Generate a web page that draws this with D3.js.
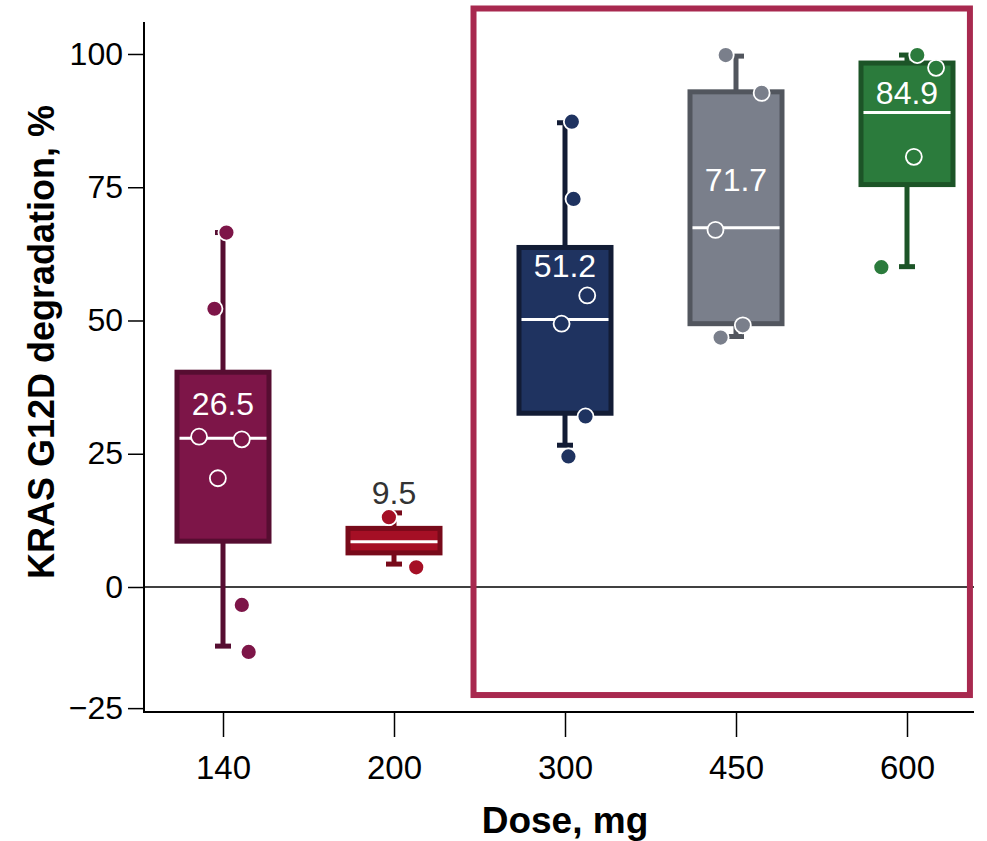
<!DOCTYPE html>
<html>
<head>
<meta charset="utf-8">
<script src="https://cdn.jsdelivr.net/npm/d3@7"></script>
<style>
  body { margin: 0; background: #fff; }
  svg { display: block; font-family: "Liberation Sans", Arial, sans-serif; }
</style>
</head>
<body>
<svg width="987" height="841"></svg>
<script>
// dose groups and box statistics (values in % degradation)
var doses = ["140", "200", "300", "450", "600"];
var q1 = [8.6, 6.4, 32.6, 49.4, 75.5];
var medians = [27.9, 8.5, 50.2, 67.4, 89.0];
var q3 = [40.3, 11.0, 63.7, 92.9, 98.3];
var whiskerLo = [-12.2, 4.3, 26.6, 47.0, 60.1];
var whiskerHi = [66.5, 13.9, 87.1, 99.6, 99.8];
var labels = ["26.5", "9.5", "51.2", "71.7", "84.9"];
var labelAt = [34.5, 17.8, 60.3, 76.4, 92.7];

// individual patients, per dose
var points140 = [66.5, 52.2, 28.2, 27.7, 20.4, -3.7, -13.4];
var points200 = [13.1, 3.7];
var points300 = [87.3, 72.8, 54.7, 49.4, 32.0, 24.5];
var points450 = [99.8, 92.7, 67.0, 49.1, 46.8];
var points600 = [99.8, 97.4, 80.7, 60.0];
// horizontal jitter as a fraction of the group step
var jitter140 = [0.02, -0.05, -0.14, 0.11, -0.03, 0.11, 0.15];
var jitter200 = [-0.03, 0.13];
var jitter300 = [0.04, 0.05, 0.13, -0.02, 0.12, 0.02];
var jitter450 = [-0.06, 0.15, -0.12, 0.04, -0.09];
var jitter600 = [0.06, 0.17, 0.04, -0.15];

var yTicks = [-25, 0, 25, 50, 75, 100];

var fills = ["#7d1548", "#a50f25", "#1f3360", "#7a7f8b", "#2b7b3c"];
var borders = ["#560d31", "#780a1a", "#121c35", "#52565e", "#1c5427"];

var allPoints = [points140, points200, points300, points450, points600];
var allJitter = [jitter140, jitter200, jitter300, jitter450, jitter600];

var plotLeft = 144, plotRight = 974, plotTop = 22, plotBottom = 712;

var svg = d3.select("svg");

var x = d3.scalePoint()
    .domain(doses)
    .range([223, 907]);
var step = x.step();

var y = d3.scaleLinear()
    .domain([-25.8, 0, 106])
    .range([plotBottom, 587, plotTop]);

var boxW = 92;

// zero reference line
svg.append("line")
    .attr("x1", plotLeft).attr("x2", plotRight)
    .attr("y1", y(0)).attr("y2", y(0))
    .attr("stroke", "#000").attr("stroke-width", 1.5);

var groups = doses.map(function(d, i) {
    return { dose: d, i: i };
});

var g = svg.append("g").selectAll("g")
    .data(groups)
    .enter().append("g");

// whisker stems
g.append("line")
    .attr("x1", function(d) { return x(d.dose); })
    .attr("x2", function(d) { return x(d.dose); })
    .attr("y1", function(d) { return y(whiskerLo[d.i]); })
    .attr("y2", function(d) { return y(whiskerHi[d.i]); })
    .attr("stroke", function(d) { return borders[d.i]; })
    .attr("stroke-width", 5);

// whisker caps
[whiskerLo, whiskerHi].forEach(function(arr) {
    g.append("line")
	.attr("x1", function(d) { return x(d.dose) - 8; })
	.attr("x2", function(d) { return x(d.dose) + 8; })
	.attr("y1", function(d) { return y(arr[d.i]); })
	.attr("y2", function(d) { return y(arr[d.i]); })
	.attr("stroke", function(d) { return borders[d.i]; })
	.attr("stroke-width", 5);
});

// boxes
g.append("rect")
    .attr("x", function(d) { return x(d.dose) - boxW / 2; })
    .attr("width", boxW)
    .attr("y", function(d) { return y(q3[d.i]); })
    .attr("height", function(d) { return y(q1[d.i]) - y(q3[d.i]); })
    .attr("fill", function(d) { return fills[d.i]; })
    .attr("stroke", function(d) { return borders[d.i]; })
    .attr("stroke-width", 5);

// medians
g.append("line")
    .attr("x1", function(d) { return x(d.dose) - boxW / 2 + 2.5; })
    .attr("x2", function(d) { return x(d.dose) + boxW / 2 - 2.5; })
    .attr("y1", function(d) { return y(medians[d.i]); })
    .attr("y2", function(d) { return y(medians[d.i]); })
    .attr("stroke", "#fff")
    .attr("stroke-width", 3);

// points
g.each(function(d) {
    d3.select(this).selectAll("circle")
	.data(allPoints[d.i])
	.enter().append("circle")
	.attr("cx", function(v, j) { return x(d.dose) + allJitter[d.i][j] * step; })
	.attr("cy", function(v) { return y(v); })
	.attr("r", 8)
	.attr("fill", fills[d.i])
	.attr("stroke", "#fff")
	.attr("stroke-width", 1.8);
});

// value labels
g.append("text")
    .attr("x", function(d) { return x(d.dose); })
    .attr("y", function(d) { return y(labelAt[d.i]); })
    .attr("dy", "0.36em")
    .attr("text-anchor", "middle")
    .attr("font-size", 32)
    .attr("fill", function(d) { return d.i == 1 ? "#333" : "#fff"; })
    .text(function(d) { return labels[d.i]; });

// highlight frame around 300-600 mg
var frameL = x("300") - step * 0.535, frameR = x("600") + step * 0.368;
svg.append("rect")
    .attr("x", frameL)
    .attr("y", 8.5)
    .attr("width", frameR - frameL)
    .attr("height", y(-22.3) - 8.5)
    .attr("fill", "none")
    .attr("stroke", "#a8294f")
    .attr("stroke-width", 6);

// axes
var yAxis = svg.append("g")
    .attr("transform", "translate(" + plotLeft + ",0)")
    .call(d3.axisLeft(y).tickValues(yTicks).tickSize(16).tickPadding(5)
	  .tickFormat(function(v) { return v < 0 ? "\u2212" + Math.abs(v) : v; }));
yAxis.select(".domain").remove();
yAxis.selectAll("line").attr("stroke-width", 1.5);
yAxis.selectAll("text").attr("font-size", 32).attr("fill", "#000")
    .style("font-family", "Liberation Sans, Arial, sans-serif");

var xAxis = svg.append("g")
    .attr("transform", "translate(0," + plotBottom + ")")
    .call(d3.axisBottom(x).tickSize(25).tickPadding(19));
xAxis.select(".domain").remove();
xAxis.selectAll("line").attr("stroke-width", 1.5);
xAxis.selectAll("text").attr("font-size", 33).attr("fill", "#000")
    .style("font-family", "Liberation Sans, Arial, sans-serif");

svg.append("path")
    .attr("d", "M" + plotLeft + "," + plotTop + "V" + plotBottom + "H" + plotRight)
    .attr("fill", "none")
    .attr("stroke", "#000")
    .attr("stroke-width", 2);

// axis titles
svg.append("text")
    .attr("transform", "translate(54,342) rotate(-90)")
    .attr("text-anchor", "middle")
    .attr("font-size", 36)
    .attr("font-weight", "bold")
    .text("KRAS G12D degradation, %");

svg.append("text")
    .attr("x", 565)
    .attr("y", 833)
    .attr("text-anchor", "middle")
    .attr("font-size", 37)
    .attr("font-weight", "bold")
    .text("Dose, mg");
</script>
</body>
</html>
